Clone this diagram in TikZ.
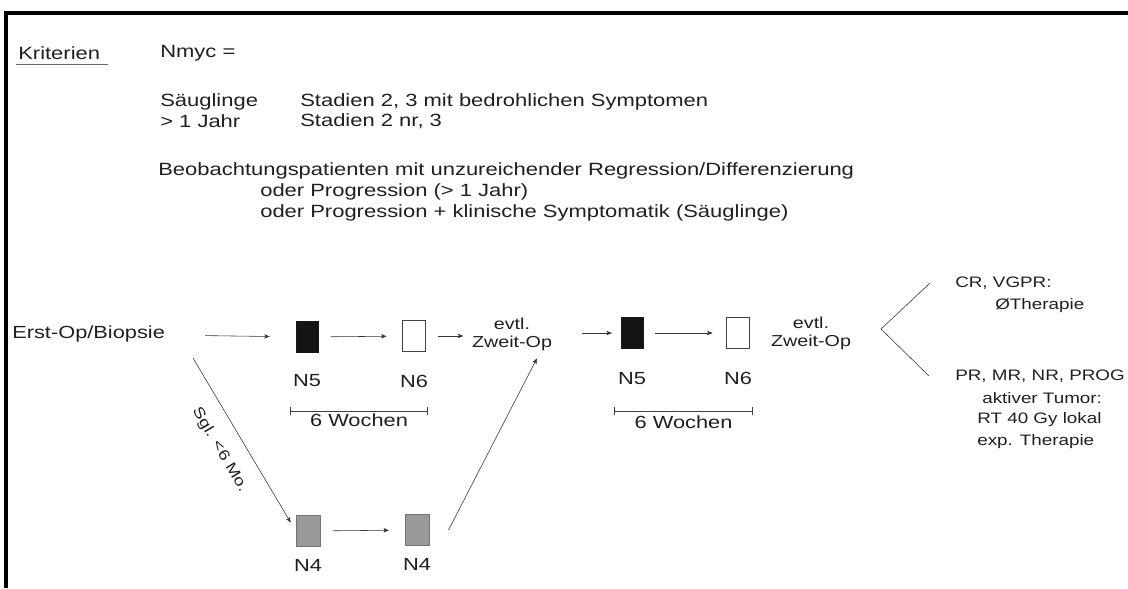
\documentclass[tikz,border=0pt]{standalone}
\usepackage{fontspec}
\setmainfont{Liberation Sans}[FakeStretch=1.24]
\usetikzlibrary{arrows}

\begin{document}
\begin{tikzpicture}[x=0.025cm,y=-0.025cm,>=stealth',
    every node/.style={text=black!88},
    crit/.style={font=\fontsize{12.6}{15}\selectfont,anchor=west,inner sep=0pt},
    flow/.style={font=\fontsize{12.5}{15}\selectfont},
    small/.style={font=\fontsize{11.3}{12.8}\selectfont,align=center},
    right block/.style={font=\fontsize{10.8}{13}\selectfont,anchor=west,inner sep=0pt},
    blackbox/.style={draw=black!90,fill=black!92,minimum width=0.56cm,minimum height=0.78cm,inner sep=0pt},
    whitebox/.style={draw=black!75,fill=white,minimum width=0.57cm,minimum height=0.78cm,inner sep=0pt},
    graybox/.style={draw=black!55,fill=black!40,minimum width=0.6cm,minimum height=0.78cm,inner sep=0pt},
    flowarrow/.style={->,black!80,thin},
    bracket/.style={|-|,black!75,thin}]
  \useasboundingbox (0,0) rectangle (1128,588);
  % frame (top and left edge of the page)
  \draw[line width=2.8pt] (6,588) -- (6,13) -- (1128,13);

  % criteria
  \node[crit] (krit) at (18,53) {Kriterien};
  \draw[black!60] (krit.south west) ++(-2,4) -- ++(92,0);
  \node[crit] (nmyc) at (160,53) {Nmyc =};
  \node[crit] (sgl) at (160,102) {Säuglinge};
  \node[crit] (sglst) at (300,102) {Stadien 2, 3 mit bedrohlichen Symptomen};
  \node[crit] (jahr) at (160,121) {> 1 Jahr};
  \node[crit] (jahrst) at (300,121) {Stadien 2 nr, 3};
  \node[crit] (beob) at (158,171) {Beobachtungspatienten mit unzureichender Regression/Differenzierung};
  \node[crit] (prog1) at (260,192) {oder Progression (> 1 Jahr)};
  \node[crit] (prog2) at (260,213) {oder Progression + klinische Symptomatik (Säuglinge)};

  % flow
  \node[flow,anchor=west,inner sep=0pt] (erst) at (12,334) {Erst-Op/Biopsie};
  \node[blackbox] (n5a) at (307,337) {};
  \node[whitebox] (n6a) at (414,336) {};
  \node[small] (op1) at (512,334) {evtl.\\Zweit-Op};
  \node[blackbox] (n5b) at (632,333) {};
  \node[whitebox] (n6b) at (738,333) {};
  \node[small] (op2) at (811,333) {evtl.\\Zweit-Op};
  \node[graybox] (n4a) at (308,531) {};
  \node[graybox] (n4b) at (417,530) {};

  \node[flow] (l5a) [below of=n5a,node distance=1.1cm] {N5};
  \node[flow] (l6a) [below of=n6a,node distance=1.13cm] {N6};
  \node[flow] (l5b) [below of=n5b,node distance=1.13cm] {N5};
  \node[flow] (l6b) [below of=n6b,node distance=1.13cm] {N6};
  \node[flow] (l4a) [below of=n4a,node distance=0.85cm] {N4};
  \node[flow] (l4b) [below of=n4b,node distance=0.87cm] {N4};

  \coordinate (sglstart) at (193,358);
  \coordinate (fork) at (881,329);

  \path[flowarrow]
    (erst) edge[shorten <=1cm,shorten >=0.65cm] (n5a)
    (n5a) edge[shorten <=0.3cm,shorten >=0.4cm] (n6a)
    (n6a) edge[shorten <=0.3cm,shorten >=0.1cm] (op1.west |- n6a)
    (op1.east |- n5b) edge[shorten <=0.62cm,shorten >=0.22cm] (n5b)
    (n5b) edge[shorten <=0.3cm,shorten >=0.35cm] (n6b)
    (n4a) edge[shorten <=0.32cm,shorten >=0.4cm] (n4b)
    ([xshift=0.48cm]n4b.east) edge ([xshift=0.62cm,yshift=-0.08cm]op1.south)
    (sglstart) edge[shorten >=0.25cm] node[sloped,below=0.3cm,pos=0.46,font=\fontsize{10.5}{12}\selectfont] {Sgl. <6 Mo.} (n4a.west);

  % six week intervals
  \draw[bracket] (290,411) -- node[flow,below,yshift=0.05cm] (wk1) {6 Wochen} (428,411);
  \draw[bracket] (614,411) -- node[flow,below] (wk2) {6 Wochen} (753,411);

  % outcome
  \node[right block] (cr1) at (955,283) {CR, VGPR:};
  \node[right block] (cr2) at (995,306) {ØTherapie};
  \node[right block] (pr1) at (955,376) {PR, MR, NR, PROG};
  \node[right block] (pr2) at (982,398) {aktiver Tumor:};
  \node[right block] (pr3) at (977,420) {RT 40 Gy lokal};
  \node[right block] (pr4) at (977,442) {exp. Therapie};
  \draw[black!80] (930,283) -- (fork) -- (929,376);
\end{tikzpicture}
\end{document}
